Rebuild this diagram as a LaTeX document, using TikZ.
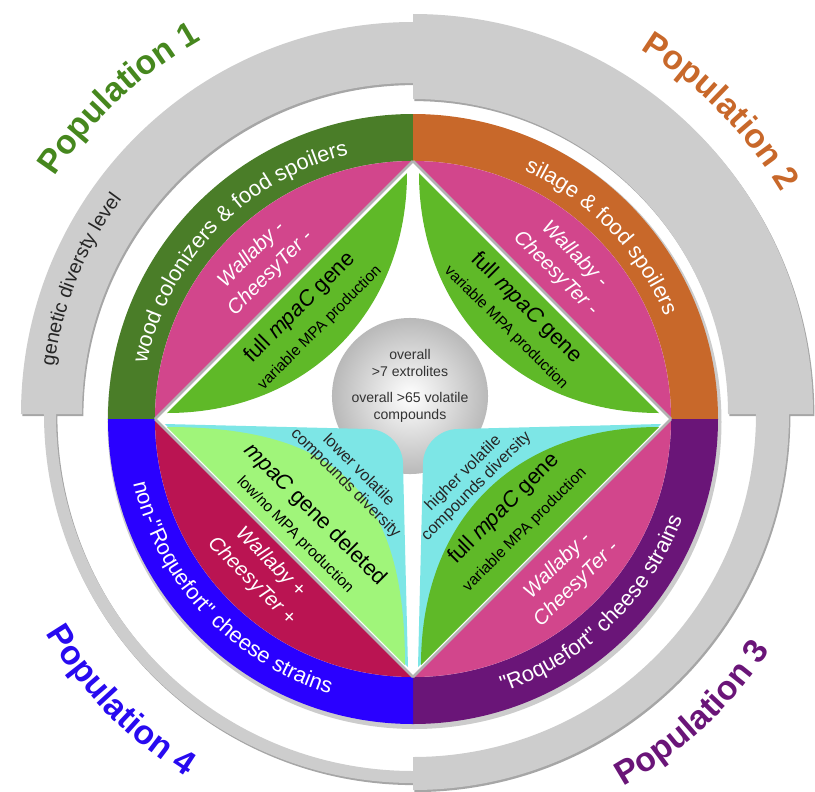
\documentclass[tikz,border=0pt]{standalone}
\usepackage{fontspec}
\setmainfont{Liberation Sans}
\newfontfamily\dritto{Liberation Sans}
\usepackage{xcolor}
\usetikzlibrary{positioning,decorations.text}

\definecolor{popuno}{RGB}{74,125,40}
\definecolor{popdue}{RGB}{200,104,42}
\definecolor{poptre}{RGB}{106,21,120}
\definecolor{popquattro}{RGB}{42,0,255}
\definecolor{popunotesto}{RGB}{70,135,30}
\definecolor{popquattrotesto}{RGB}{40,10,240}
\definecolor{rosa}{RGB}{210,70,140}
\definecolor{cremisi}{RGB}{186,20,82}
\definecolor{foglia}{RGB}{95,185,40}
\definecolor{fogliachiara}{RGB}{160,245,122}
\definecolor{ciano}{RGB}{125,230,230}
\definecolor{grigio}{RGB}{205,205,205}

\newcommand{\popfont}{\fontsize{24}{28}\selectfont\bfseries}
\newcommand{\anellofont}{\fontsize{15.5}{18}\selectfont}
\newcommand{\livellofont}{\fontsize{14}{16}\selectfont}

\tikzset{
  banda/.style={fill=grigio, even odd rule,
    preaction={fill=black!35, even odd rule, transform canvas={xshift=1pt,yshift=-1.5pt}}},
  corda/.style={draw=gray!60, line width=2pt},
  etichetta/.style 2 args={decorate, decoration={text along path, text align=center,
    text color=#1, text={|\popfont|#2}}},
  anello/.style={decorate, decoration={text along path, text align=center,
    text color=white, text={|\anellofont|#1}}},
  bianco/.style={text=white, font=\fontsize{14.5}{19}\selectfont\itshape, align=center},
  gene/.style={font=\fontsize{15.5}{18}\selectfont},
  mpa/.style={font=\fontsize{11}{13}\selectfont},
  volatili/.style={font=\fontsize{11.5}{13}\selectfont, align=center, text=black!85},
  sferatesto/.style={font=\fontsize{10}{12}\selectfont, align=center, text=black!80}
}

\begin{document}
\begin{tikzpicture}[x=0.025cm, y=0.025cm]
  \useasboundingbox (-413,-372) rectangle (402,419);

  %banda grigia
  \begin{scope}[shift={(0,5)}]
    \fill[banda] (90:392) -- (90:400) arc[start angle=90, end angle=0, radius=400]
      -- (0:376) arc[start angle=0, end angle=-90, radius=376]
      -- (-90:369) arc[start angle=-90, end angle=-180, radius=369]
      -- (180:392) arc[start angle=180, end angle=90, radius=392] -- cycle
      (90:331) -- (90:315) arc[start angle=90, end angle=0, radius=315]
      -- (0:343) arc[start angle=0, end angle=-90, radius=343]
      -- (-90:357) arc[start angle=-90, end angle=-180, radius=357]
      -- (180:331) arc[start angle=180, end angle=90, radius=331] -- cycle;
    \path[decorate, decoration={text along path, text align=center, text color=black!85,
      text={|\livellofont|genetic diversty level}}] (178:362) arc[start angle=178, end angle=138, radius=362];

    %popolazioni
    \path[etichetta={popunotesto}{Population 1}] (163:430) arc[start angle=163, end angle=103, radius=430];
    \path[etichetta={popdue}{Population 2}] (74.5:430) arc[start angle=74.5, end angle=14.5, radius=430];
    \path[etichetta={poptre}{Population 3}] (-77:428) arc[start angle=-77, end angle=-17, radius=428];
    \path[etichetta={popquattrotesto}{Population 4}] (194.4:428) arc[start angle=194.4, end angle=254.4, radius=428];
  \end{scope}

  %anello colorato
  \fill[gray!40] (1.5,-3) circle[radius=307];
  \foreach \a/\c in {90/popuno, 0/popdue, 270/poptre, 180/popquattro}
    \fill[\c] (0,0) -- (\a:305) arc[start angle=\a, delta angle=90, radius=305] -- cycle;
  \fill[white] (0,0) circle[radius=258];

  %segmenti
  \foreach \a/\c in {90/rosa, 0/rosa, 270/rosa, 180/cremisi}
    \fill[\c] (\a:258) arc[start angle=\a, delta angle=90, radius=258] -- cycle;
  \foreach \a in {0,90,180,270}
    \draw[corda] (\a:258) -- (\a+90:258);

  %sfera
  \node[circle, minimum size=3.9cm, shade, shading=radial, inner color=white, outer color=gray!55] (centro) at (-3,23) {};

  %foglie
  \fill[ciano] (-248,-5) -- (-45,-10) .. controls (-26,-10) and (-10,-26) .. (-10,-45) -- (-5,-248) -- cycle;
  \fill[ciano] (248,-5) -- (45,-10) .. controls (26,-10) and (10,-26) .. (10,-45) -- (5,-248) -- cycle;
  \fill[foglia] (-246,6) to[bend right=45, looseness=1.05] (-6,246) -- cycle;
  \fill[foglia] (6,246) to[bend right=45, looseness=1.05] (246,6) -- cycle;
  \fill[foglia] (246,-8) to[bend right=45, looseness=1.1] (8,-246) -- cycle;
  \fill[fogliachiara] (-8,-246) to[bend right=45, looseness=1.3] (-246,-8) -- cycle;

  %testi anello
  \path[anello={wood colonizers {\&} food spoilers}] (178:272) arc[start angle=178, end angle=94, radius=272];
  \path[anello={silage {\&} food spoilers}] (82:272) arc[start angle=82, end angle=6, radius=272];
  \path[anello={non-{\dritto"}Roquefort{\dritto"} cheese strains}] (185:287) arc[start angle=185, end angle=261, radius=287];
  \path[anello={{\dritto"}Roquefort{\dritto"} cheese strains}] (-84:287) arc[start angle=-84, end angle=-8, radius=287];

  %testi interni
  \node[sferatesto] (estr) at (-3,56) {overall\\>7 extrolites};
  \node[sferatesto] (vol) at (-3,12) {overall >65 volatile\\compounds};

  \node[bianco, rotate=45] (wc1) at (-152,155) {Wallaby -\\CheesyTer -};
  \node[bianco, rotate=-45] (wc2) at (152,155) {Wallaby -\\CheesyTer -};
  \node[bianco, rotate=45] (wc3) at (154,-156) {Wallaby -\\CheesyTer -};
  \node[bianco, rotate=-45] (wc4) at (-152,-153) {Wallaby +\\CheesyTer +};

  \node[gene, rotate=45] (g1) at (-113,111) {full \textit{mpaC} gene};
  \node[mpa, rotate=45] (p1) at (-93,91) {variable MPA production};
  \node[gene, rotate=-45] (g2) at (113,111) {full \textit{mpaC} gene};
  \node[mpa, rotate=-45] (p2) at (93,91) {variable MPA production};
  \node[gene, rotate=45] (g3) at (91,-90) {full \textit{mpaC} gene};
  \node[mpa, rotate=45] (p3) at (112,-111) {variable MPA production};
  \node[gene, rotate=-45] (g4) at (-98,-96) {\textit{mpaC} gene deleted};
  \node[mpa, rotate=-45] (p4) at (-118,-116) {low/no MPA production};

  \node[volatili, rotate=45] (v3) at (57,-61) {higher volatile\\compounds diversity};
  \node[volatili, rotate=-45] (v4) at (-61,-58) {lower volatile\\compounds diversity};
\end{tikzpicture}
\end{document}
